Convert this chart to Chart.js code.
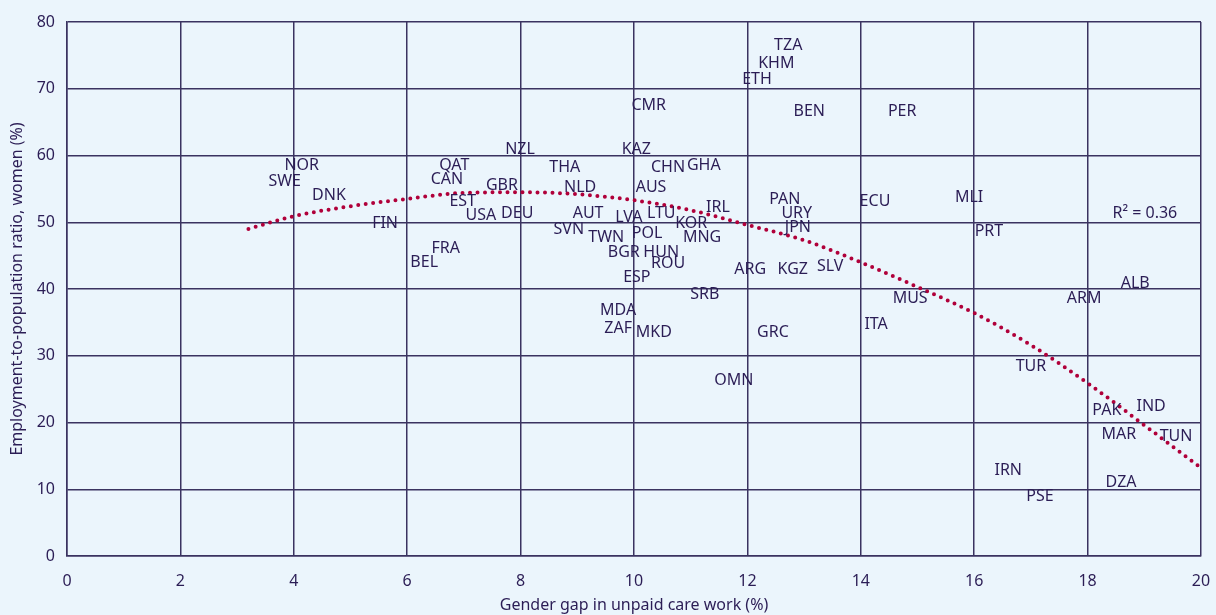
<!DOCTYPE html>
<html>
<head>
<meta charset="utf-8">
<script src="https://cdn.jsdelivr.net/npm/chart.js@4"></script>
<style>
  body { margin: 0; background: #EBF5FC; }
  #wrap { width: 1216px; height: 615px; }
</style>
</head>
<body>
<div id="wrap"><canvas id="myChart"></canvas></div>
<script>
var countries = ['NOR','SWE','DNK','FIN','QAT','CAN','EST','USA','GBR','DEU','FRA','BEL',
  'NZL','THA','NLD','AUT','SVN','TWN','BGR','ESP','KAZ','CMR','CHN','GHA','AUS','LVA',
  'LTU','POL','HUN','ROU','KOR','MNG','IRL','TZA','KHM','ETH','BEN','PER','ARG','KGZ',
  'SLV','PAN','URY','JPN','ECU','MLI','PRT','SRB','MDA','ZAF','MKD','GRC','OMN','MUS',
  'ITA','ARM','ALB','TUR','PAK','IND','MAR','TUN','IRN','PSE','DZA'];
var careGap = [4.14,3.84,4.62,5.61,6.83,6.70,6.98,7.30,7.67,7.94,6.68,6.30,
  7.99,8.78,9.05,9.19,8.85,9.51,9.82,10.05,10.04,10.26,10.60,11.23,10.30,9.91,
  10.48,10.23,10.48,10.60,11.01,11.20,11.48,12.72,12.51,12.17,13.09,14.73,12.05,12.80,
  13.46,12.66,12.87,12.89,14.25,15.91,16.26,11.25,9.72,9.72,10.35,12.45,11.76,14.87,
  14.27,17.94,18.84,17.00,18.34,19.12,18.55,19.56,16.60,17.16,18.59];
var empRatio = [58.7,56.3,54.2,49.9,58.7,56.5,53.2,51.1,55.7,51.5,46.3,44.2,
  61.0,58.3,55.3,51.5,49.1,47.9,45.7,41.9,61.0,67.7,58.3,58.7,55.4,50.9,
  51.4,48.5,45.7,44.0,49.9,47.9,52.4,76.7,73.9,71.6,66.7,66.7,43.1,43.1,
  43.6,53.5,51.4,49.3,53.2,53.8,48.7,39.3,36.9,34.2,33.6,33.6,26.4,38.8,
  34.8,38.7,41.0,28.6,22.0,22.5,18.4,18.0,12.9,9.0,11.2];

var trendX = [3.2,4,5,6,7,8,9,10,11,12,13,14,15,16,17,18,19,20];
var trendY = [49.0,50.9,52.4,53.5,54.4,54.5,54.2,53.3,51.8,49.6,47.3,44.0,40.3,36.4,31.6,25.9,19.6,13.2];

var xTicks = [0,2,4,6,8,10,12,14,16,18,20];
var yTicks = [0,10,20,30,40,50,60,70,80];

var textColor = '#2B1D55';
var gridColor = '#3A3360';

var points = countries.map(function(c, i) { return { x: careGap[i], y: empRatio[i], label: c }; });
var trend = trendX.map(function(x, i) { return { x: x, y: trendY[i] }; });

var bgPlugin = {
  id: 'bg',
  beforeDraw: function(chart) {
    var ctx = chart.ctx;
    ctx.save();
    ctx.fillStyle = '#EBF5FC';
    ctx.fillRect(0, 0, chart.width, chart.height);
    ctx.restore();
  }
};

// country codes are written at each point's position
var labelPlugin = {
  id: 'countryLabels',
  afterDatasetsDraw: function(chart) {
    var ctx = chart.ctx;
    var xs = chart.scales.x, ys = chart.scales.y;
    ctx.save();
    ctx.font = '16px "Noto Sans"';
    ctx.fillStyle = textColor;
    ctx.textAlign = 'center';
    ctx.textBaseline = 'middle';
    points.forEach(function(p) {
      ctx.fillText(p.label, xs.getPixelForValue(p.x), ys.getPixelForValue(p.y) + 1);
    });
    ctx.fillText('R\u00B2 = 0.36', xs.getPixelForValue(19.01), ys.getPixelForValue(51.5) + 1);
    ctx.restore();
  }
};

new Chart(document.getElementById('myChart'), {
  type: 'scatter',
  data: {
    datasets: [{
      label: 'Countries',
      data: points,
      pointRadius: 0,
      pointHoverRadius: 0
    }, {
      type: 'line',
      label: 'Trend',
      data: trend,
      borderColor: '#B0003A',
      borderWidth: 4,
      borderDash: [0, 7.5],
      borderCapStyle: 'round',
      pointRadius: 0,
      fill: false,
      cubicInterpolationMode: 'monotone'
    }]
  },
  options: {
    responsive: true,
    maintainAspectRatio: false,
    animation: false,
    layout: { padding: { left: 0, right: 15, top: 22, bottom: 0 } },
    plugins: {
      legend: { display: false },
      tooltip: { enabled: false }
    },
    scales: {
      x: {
        type: 'linear',
        min: 0, max: 20,
        afterBuildTicks: function(axis) { axis.ticks = xTicks.map(function(v) { return { value: v }; }); },
        afterFit: function(axis) { axis.height = 59; axis.paddingLeft = 0; axis.paddingRight = 0; },
        grid: { color: gridColor, lineWidth: 1.5, drawTicks: false },
        border: { color: gridColor, width: 1.5 },
        ticks: { color: textColor, padding: 16, font: { family: 'Noto Sans', size: 16 } },
        title: { display: true, text: 'Gender gap in unpaid care work (%)', color: textColor,
          font: { family: 'Noto Sans', size: 16 }, padding: { top: 2, bottom: 0 } }
      },
      y: {
        type: 'linear',
        min: 0, max: 80,
        afterBuildTicks: function(axis) { axis.ticks = yTicks.map(function(v) { return { value: v }; }); },
        afterFit: function(axis) { axis.width = 67; axis.paddingTop = 0; axis.paddingBottom = 0; },
        grid: { color: gridColor, lineWidth: 1.5, drawTicks: false },
        border: { color: gridColor, width: 1.5 },
        ticks: { color: textColor, padding: 12, font: { family: 'Noto Sans', size: 16 } },
        title: { display: true, text: 'Employment-to-population ratio, women (%)', color: textColor,
          font: { family: 'Noto Sans', size: 16 }, padding: { top: 8, bottom: 0 } }
      }
    }
  },
  plugins: [bgPlugin, labelPlugin]
});
</script>
</body>
</html>
